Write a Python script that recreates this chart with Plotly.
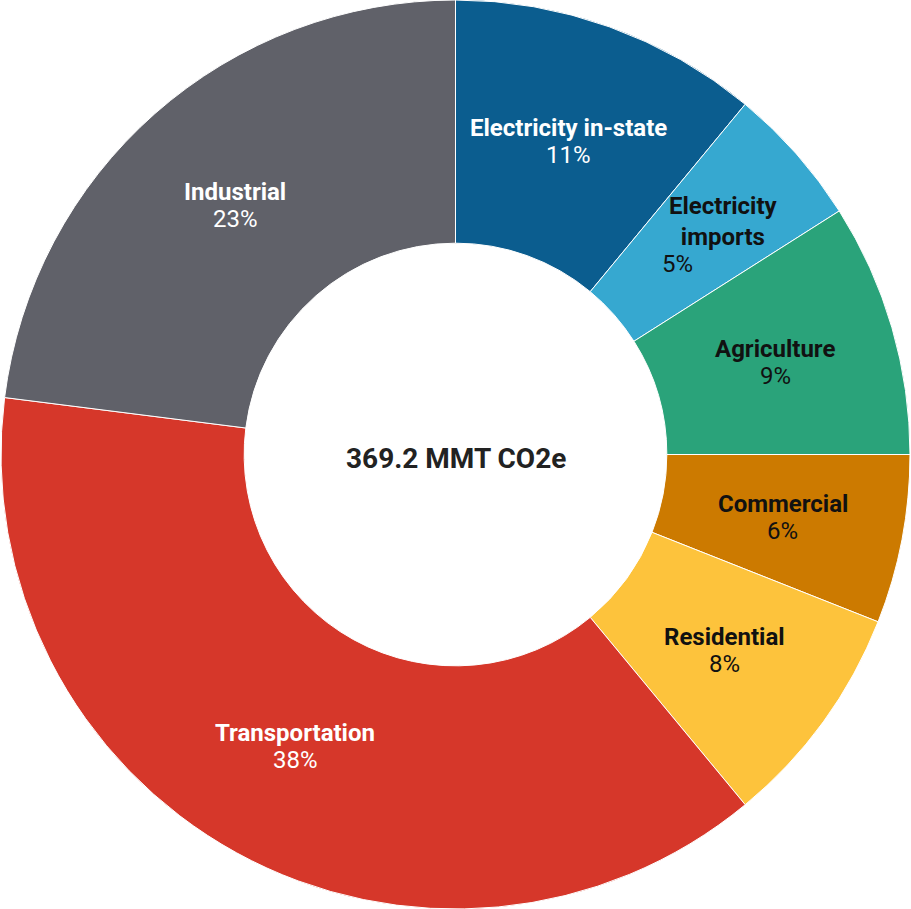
import math
import plotly.graph_objects as go

labels = ["Electricity in-state", "Electricity<br>imports", "Agriculture", "Commercial",
          "Residential", "Transportation", "Industrial"]
shares = [11, 5, 9, 6, 8, 38, 23]
colors = ["#0b5d8f", "#36a8d0", "#2aa37a", "#cc7a00", "#fdc33c", "#d6372a", "#606169"]
text_colors = ["white", "#111111", "#111111", "#111111", "#111111", "white", "white"]
total_label = "369.2 MMT CO2e"

W, H = 911, 909
HOLE = 0.465

# small manual label nudges (pixels): (label dx, percent dx, dy)
nudges = {"Electricity<br>imports": (18, -28, -16)}

fig = go.Figure(go.Pie(
    labels=labels,
    values=shares,
    hole=HOLE,
    sort=False,
    direction="clockwise",
    rotation=0,
    marker=dict(colors=colors, line=dict(color="white", width=1)),
    textinfo="none",
    hoverinfo="label+percent",
    showlegend=False,
    domain=dict(x=[0, 1], y=[0, 1]),
))

# place labels at mid-angle / mid-ring of each slice
R_out = min(W, H) / 2
r_mid = R_out * (1 + HOLE) / 2
total = sum(shares)
cum = 0
for lab, v, tc in zip(labels, shares, text_colors):
    mid = (cum + v / 2) / total * 2 * math.pi
    cum += v
    x = 0.5 + r_mid * math.sin(mid) / W
    y = 0.5 + r_mid * math.cos(mid) / H
    ldx, pdx, dy = nudges.get(lab, (0, 0, 0))
    pct = f"{round(100 * v / total)}%"
    fig.add_annotation(text="<b>" + lab + "</b>", x=x, y=y, xref="paper", yref="paper",
                       showarrow=False, xanchor="center", yanchor="bottom",
                       xshift=ldx, yshift=-3 + dy,
                       font=dict(family="Roboto", size=24, color=tc))
    fig.add_annotation(text=pct, x=x, y=y, xref="paper", yref="paper",
                       showarrow=False, xanchor="center", yanchor="top",
                       xshift=pdx, yshift=2 + dy,
                       font=dict(family="Roboto", size=24, color=tc))

fig.add_annotation(text="<b>" + total_label + "</b>", x=0.5, y=0.5, xref="paper", yref="paper",
                   showarrow=False, xanchor="center", yshift=-4,
                   font=dict(family="Roboto", size=28, color="#222222"))

fig.update_layout(width=W, height=H, margin=dict(l=0, r=0, t=0, b=0),
                  paper_bgcolor="white", plot_bgcolor="white")

fig.write_html("out.html")
